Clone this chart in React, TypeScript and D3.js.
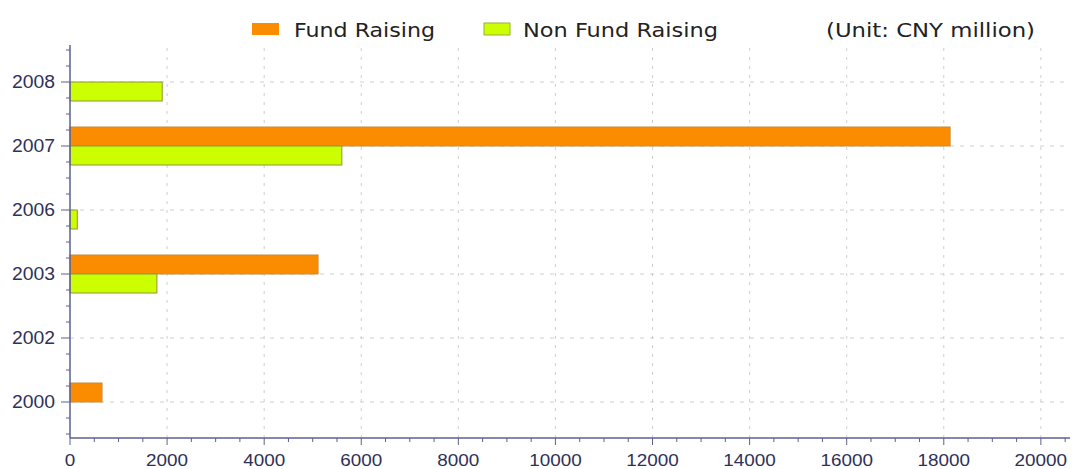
import React from "react";
import * as d3 from "d3";

const years = ["2008", "2007", "2006", "2003", "2002", "2000"];
const fundRaising = [0, 18130, 0, 5110, 0, 660];
const nonFundRaising = [1900, 5600, 150, 1790, 0, 0];
const xTicks = [0, 2000, 4000, 6000, 8000, 10000, 12000, 14000, 16000, 18000, 20000];
const seriesNames = ["Fund Raising", "Non Fund Raising"];
const unitLabel = "(Unit: CNY million)";

export default function App() {
  const width = 1072;
  const height = 469;
  const left = 70;
  const axisY = 438;

  const x = d3.scaleLinear().domain([0, 20600]).range([left, 1070]);
  const y = d3.scaleBand().domain(years).range([50, 434]).padding(0);
  const barH = 19;

  const axisColor = "#5c5f8f";
  const labelColor = "#2e3158";
  const orange = "#fb8c00";
  const green = "#ccff00";
  const tickFont = "Arial, Liberation Sans, sans-serif";
  const legendFont = "DejaVu Sans, Verdana, sans-serif";

  const minorX = d3.range(0, 20600, 500).filter((v) => v % 2000 !== 0);
  const minorY: number[] = [];
  years.forEach((yr) => {
    const s = y(yr) as number;
    [0, 1, 3].forEach((k) => minorY.push(s + (k * y.step()) / 4));
  });
  minorY.push(434);

  return (
    <div style={{ position: "absolute", left: 0, top: 0 }}>
      <svg width={width} height={height} style={{ display: "block", background: "#fff" }}>
        {/* grid */}
        {xTicks.slice(1).map((t) => (
          <line key={"gx" + t} x1={x(t)} x2={x(t)} y1={48} y2={axisY} stroke="#cfcfcf" strokeDasharray="3,6" />
        ))}
        {years.map((yr) => {
          const c = (y(yr) as number) + y.bandwidth() / 2;
          return <line key={"gy" + yr} x1={left} x2={1070} y1={c} y2={c} stroke="#cfcfcf" strokeDasharray="4,6" />;
        })}

        {/* bars */}
        {years.map((yr, i) => {
          const c = (y(yr) as number) + y.bandwidth() / 2;
          return (
            <g key={"b" + yr}>
              {fundRaising[i] > 0 && (
                <rect x={x(0)} y={c - barH} width={x(fundRaising[i]) - x(0)} height={barH} fill={orange} stroke="#c98a3a" strokeWidth={1} />
              )}
              {nonFundRaising[i] > 0 && (
                <rect x={x(0)} y={c} width={x(nonFundRaising[i]) - x(0)} height={barH} fill={green} stroke="#8a9a3a" strokeWidth={1} />
              )}
            </g>
          );
        })}

        {/* axes */}
        <line x1={left} x2={left} y1={45} y2={axisY} stroke={axisColor} strokeWidth={1.5} />
        <line x1={left} x2={1070} y1={axisY} y2={axisY} stroke={axisColor} strokeWidth={1.5} />
        {minorY.map((v, i) => (
          <line key={"my" + i} x1={left - 4} x2={left} y1={v} y2={v} stroke={axisColor} />
        ))}
        {years.map((yr) => {
          const c = (y(yr) as number) + y.bandwidth() / 2;
          return (
            <g key={"ty" + yr}>
              <line x1={left - 9} x2={left} y1={c} y2={c} stroke={axisColor} />
              <text x={55} y={c + 6} textAnchor="end" fontFamily={tickFont} fontSize={18} fill={labelColor}
                textLength={43} lengthAdjust="spacingAndGlyphs">
                {yr}
              </text>
            </g>
          );
        })}
        {minorX.map((v) => (
          <line key={"mx" + v} x1={x(v)} x2={x(v)} y1={axisY} y2={axisY + 4} stroke={axisColor} />
        ))}
        {xTicks.map((t) => (
          <g key={"tx" + t}>
            <line x1={x(t)} x2={x(t)} y1={axisY} y2={axisY + 7} stroke={axisColor} />
            <text x={x(t)} y={466} textAnchor="middle" fontFamily={tickFont} fontSize={17} fill={labelColor}
              textLength={String(t).length * 10.5} lengthAdjust="spacingAndGlyphs">
              {t}
            </text>
          </g>
        ))}

        {/* legend */}
        <rect x={252} y={23} width={27} height={12} fill={orange} />
        <text x={294} y={37} fontFamily={legendFont} fontSize={19} fill="#222" textLength={141} lengthAdjust="spacingAndGlyphs">
          {seriesNames[0]}
        </text>
        <rect x={484} y={23} width={26} height={12} fill={green} stroke="#9ab03a" />
        <text x={523} y={37} fontFamily={legendFont} fontSize={19} fill="#222" textLength={195} lengthAdjust="spacingAndGlyphs">
          {seriesNames[1]}
        </text>
        <text x={826} y={37} fontFamily={legendFont} fontSize={19} fill="#222" textLength={209} lengthAdjust="spacingAndGlyphs">
          {unitLabel}
        </text>
      </svg>
    </div>
  );
}
